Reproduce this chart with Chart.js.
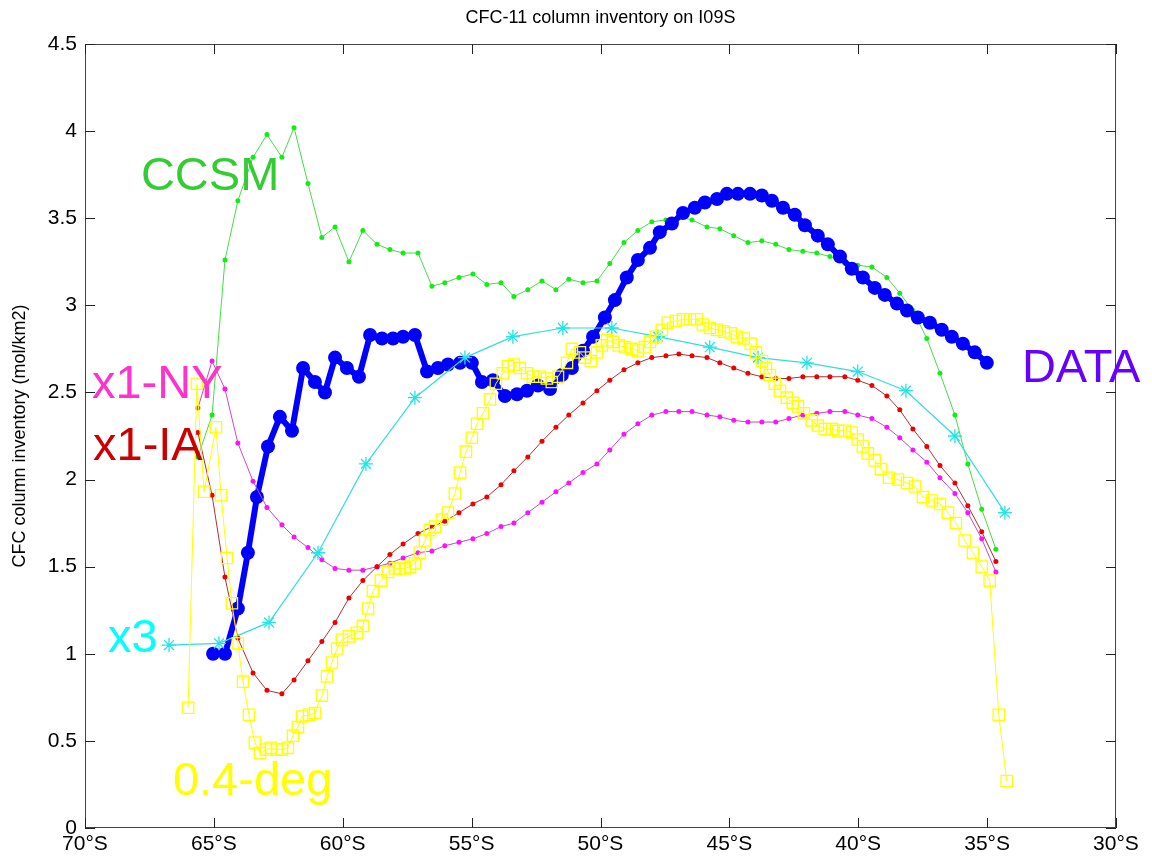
<!DOCTYPE html>
<html>
<head>
<meta charset="utf-8">
<script src="https://cdn.jsdelivr.net/npm/chart.js@4.4.0/dist/chart.umd.min.js"></script>
<style>
  html, body { margin: 0; padding: 0; background: #fff; }
</style>
</head>
<body>
<canvas id="cfc-chart" width="1152" height="858"></canvas>
<script>
//
// Data - latitudes are negative (degrees south)
//
const xTicks = [-70, -65, -60, -55, -50, -45, -40, -35, -30];
const yTicks = [0, 0.5, 1, 1.5, 2, 2.5, 3, 3.5, 4, 4.5];

// model grid shared by CCSM, x1-IA and x1-NY
const modelLat = [-65.62, -65.07, -64.57, -64.07, -63.48, -62.94, -62.36, -61.89, -61.35, -60.81,
    -60.30, -59.76, -59.22, -58.67, -58.17, -57.66, -57.08, -56.54, -56.04, -55.49,
    -54.95, -54.41, -53.86, -53.36, -52.82, -52.27, -51.73, -51.23, -50.68, -50.14,
    -49.64, -49.09, -48.55, -48.01, -47.46, -46.96, -46.45, -45.87, -45.37, -44.83,
    -44.28, -43.74, -43.20, -42.69, -42.15, -41.61, -41.10, -40.52, -40.02, -39.47,
    -38.89, -38.39, -37.88, -37.34, -36.83, -36.25, -35.75, -35.21, -34.66];

const ccsm = [2.13, 2.37, 3.26, 3.60, 3.85, 3.98, 3.85, 4.02, 3.70, 3.39,
    3.45, 3.25, 3.43, 3.35, 3.32, 3.30, 3.30, 3.11, 3.13, 3.16,
    3.18, 3.12, 3.13, 3.05, 3.09, 3.14, 3.09, 3.15, 3.13, 3.14,
    3.24, 3.36, 3.43, 3.48, 3.49, 3.51, 3.49, 3.45, 3.44, 3.40,
    3.36, 3.37, 3.35, 3.32, 3.31, 3.30, 3.28, 3.24, 3.23, 3.22,
    3.16, 3.07, 2.97, 2.81, 2.61, 2.37, 2.09, 1.83, 1.60];

const x1IA = [2.27, 1.91, 1.44, 1.09, 0.89, 0.79, 0.77, 0.85, 0.96, 1.07,
    1.18, 1.32, 1.42, 1.50, 1.57, 1.63, 1.69, 1.73, 1.76, 1.81,
    1.86, 1.90, 1.97, 2.05, 2.13, 2.22, 2.30, 2.37, 2.44, 2.51,
    2.57, 2.63, 2.67, 2.70, 2.71, 2.72, 2.71, 2.70, 2.67, 2.64,
    2.61, 2.59, 2.58, 2.58, 2.59, 2.59, 2.59, 2.59, 2.57, 2.54,
    2.48, 2.40, 2.29, 2.19, 2.08, 1.98, 1.85, 1.70, 1.53];

const x1NY = [2.41, 2.68, 2.52, 2.21, 1.99, 1.84, 1.74, 1.67, 1.61, 1.54,
    1.49, 1.48, 1.48, 1.50, 1.52, 1.55, 1.58, 1.59, 1.62, 1.64,
    1.66, 1.69, 1.73, 1.75, 1.81, 1.87, 1.93, 1.98, 2.04, 2.09,
    2.17, 2.26, 2.32, 2.37, 2.39, 2.39, 2.39, 2.37, 2.36, 2.34,
    2.33, 2.33, 2.33, 2.35, 2.37, 2.38, 2.39, 2.39, 2.37, 2.35,
    2.30, 2.24, 2.17, 2.10, 2.01, 1.92, 1.81, 1.66, 1.47];

const x3Lat = [-66.74, -64.80, -62.86, -60.96, -59.10, -57.20, -55.26, -53.40, -51.46,
    -49.56, -47.77, -45.76, -43.89, -41.99, -40.02, -38.15, -36.25, -34.31];
const x3 = [1.05, 1.06, 1.18, 1.58, 2.09, 2.47, 2.70, 2.82, 2.87,
    2.87, 2.82, 2.76, 2.70, 2.67, 2.62, 2.51, 2.25, 1.81];

const obsLat = [-65.03, -64.57, -64.07, -63.68, -63.33, -62.90, -62.44, -61.97, -61.54, -61.08,
    -60.69, -60.30, -59.84, -59.37, -58.94, -58.48, -58.05, -57.66, -57.20, -56.73,
    -56.31, -55.92, -55.45, -54.99, -54.60, -54.17, -53.71, -53.24, -52.85, -52.43,
    -51.96, -51.50, -51.11, -50.68, -50.29, -49.83, -49.44, -48.98, -48.55, -48.08,
    -47.70, -47.23, -46.80, -46.34, -45.95, -45.48, -45.10, -44.67, -44.20, -43.74,
    -43.35, -42.92, -42.46, -42.07, -41.57, -41.18, -40.71, -40.25, -39.82, -39.36,
    -38.97, -38.50, -38.11, -37.69, -37.22, -36.76, -36.37, -35.94, -35.48, -35.01];
const obs = [1.00, 1.00, 1.26, 1.58, 1.90, 2.19, 2.36, 2.28, 2.64, 2.56,
    2.50, 2.70, 2.64, 2.59, 2.83, 2.81, 2.81, 2.82, 2.83, 2.62,
    2.64, 2.66, 2.67, 2.67, 2.56, 2.57, 2.48, 2.49, 2.51, 2.54,
    2.52, 2.60, 2.64, 2.74, 2.82, 2.93, 3.03, 3.16, 3.26, 3.33,
    3.42, 3.47, 3.53, 3.56, 3.59, 3.61, 3.64, 3.64, 3.64, 3.63,
    3.60, 3.56, 3.52, 3.46, 3.40, 3.35, 3.28, 3.21, 3.16, 3.10,
    3.06, 3.01, 2.97, 2.93, 2.90, 2.86, 2.82, 2.78, 2.73, 2.67];

const deg04Lat = [-66.00, -65.66, -65.38, -64.92, -64.72, -64.49, -64.30, -64.07, -63.87, -63.64,
    -63.41, -63.21, -62.98, -62.79, -62.55, -62.36, -62.13, -61.93, -61.74, -61.58,
    -61.31, -61.08, -60.81, -60.61, -60.42, -60.22, -60.03, -59.76, -59.45, -59.22,
    -59.02, -58.83, -58.52, -58.25, -57.98, -57.78, -57.59, -57.39, -57.20, -57.01,
    -56.81, -56.62, -56.42, -56.15, -55.92, -55.65, -55.45, -55.22, -54.99, -54.79,
    -54.56, -54.29, -54.06, -53.79, -53.59, -53.36, -53.13, -52.85, -52.62, -52.35,
    -52.08, -51.89, -51.65, -51.30, -51.11, -50.80, -50.61, -50.37, -50.14, -49.95,
    -49.75, -49.52, -49.29, -49.05, -48.78, -48.55, -48.28, -48.08, -47.85, -47.62,
    -47.39, -47.08, -46.80, -46.53, -46.26, -46.03, -45.76, -45.48, -45.21, -44.94,
    -44.71, -44.44, -44.17, -43.97, -43.74, -43.58, -43.43, -43.24, -43.04, -42.77,
    -42.54, -42.34, -42.11, -41.80, -41.57, -41.30, -41.02, -40.79, -40.52, -40.25,
    -40.02, -39.82, -39.63, -39.36, -39.12, -38.81, -38.46, -38.11, -37.80, -37.49,
    -37.14, -36.83, -36.52, -36.21, -35.87, -35.55, -35.21, -34.90, -34.55, -34.24];
const deg04 = [0.69, 2.55, 1.93, 2.30, 1.91, 1.55, 1.29, 1.06, 0.84, 0.65,
    0.49, 0.43, 0.45, 0.46, 0.45, 0.45, 0.46, 0.53, 0.58, 0.64,
    0.65, 0.66, 0.76, 0.87, 0.95, 1.03, 1.08, 1.10, 1.12, 1.16,
    1.26, 1.36, 1.42, 1.47, 1.49, 1.49, 1.49, 1.50, 1.52, 1.58,
    1.65, 1.71, 1.73, 1.77, 1.81, 1.92, 2.04, 2.16, 2.24, 2.32,
    2.38, 2.46, 2.55, 2.61, 2.65, 2.66, 2.64, 2.61, 2.59, 2.59,
    2.58, 2.56, 2.59, 2.67, 2.75, 2.73, 2.70, 2.68, 2.73, 2.77,
    2.80, 2.79, 2.77, 2.76, 2.75, 2.74, 2.76, 2.79, 2.82, 2.86,
    2.90, 2.91, 2.92, 2.92, 2.92, 2.89, 2.87, 2.86, 2.85, 2.84,
    2.82, 2.81, 2.78, 2.73, 2.68, 2.64, 2.60, 2.55, 2.51, 2.47,
    2.44, 2.42, 2.38, 2.34, 2.31, 2.29, 2.29, 2.28, 2.28, 2.27,
    2.23, 2.19, 2.15, 2.11, 2.06, 2.01, 2.00, 1.98, 1.96, 1.90,
    1.88, 1.86, 1.81, 1.75, 1.65, 1.58, 1.50, 1.42, 0.65, 0.27];

const FONT = "'Liberation Sans', Arial, sans-serif";

function toPoints(xs, ys) {
    return xs.map((x, i) => ({ x: x, y: ys[i] }));
}

//
// Text labels drawn next to the curves (placed in data units)
//
const curveLabels = [
    { text: 'CCSM',    x: -67.83, y: 3.66, color: '#33cc33' },
    { text: 'DATA',    x: -33.65, y: 2.56, color: '#6600ff' },
    { text: 'x1-NY',   x: -69.73, y: 2.47, color: '#ff33cc' },
    { text: 'x1-IA',   x: -69.69, y: 2.11, color: '#cc0000' },
    { text: 'x3',      x: -69.11, y: 1.01, color: '#00ffff' },
    { text: '0.4-deg', x: -66.59, y: 0.19, color: '#ffff00' }
];

// box, inward ticks, title, y label and curve names
const matlabFrame = {
    id: 'matlabFrame',
    afterDraw(chart) {
        const ctx = chart.ctx;
        const a = chart.chartArea;
        const xs = chart.scales.x;
        const ys = chart.scales.y;
        const tick = 10;

        ctx.save();
        ctx.strokeStyle = '#444';
        ctx.lineWidth = 1;
        ctx.strokeRect(a.left + 0.5, a.top + 0.5, a.right - a.left - 1, a.bottom - a.top - 1);

        ctx.strokeStyle = '#222';
        ctx.beginPath();
        xTicks.forEach(v => {
            const px = Math.round(xs.getPixelForValue(v)) + 0.5;
            ctx.moveTo(px, a.bottom);
            ctx.lineTo(px, a.bottom - tick);
            ctx.moveTo(px, a.top);
            ctx.lineTo(px, a.top + tick);
        });
        yTicks.forEach(v => {
            const py = Math.round(ys.getPixelForValue(v)) + 0.5;
            ctx.moveTo(a.left, py);
            ctx.lineTo(a.left + tick, py);
            ctx.moveTo(a.right, py);
            ctx.lineTo(a.right - tick, py);
        });
        ctx.stroke();

        // title
        ctx.fillStyle = '#000';
        ctx.font = '18px ' + FONT;
        ctx.textAlign = 'center';
        ctx.textBaseline = 'middle';
        ctx.fillText('CFC-11 column inventory on I09S', (a.left + a.right) / 2, 18);

        // y axis title
        ctx.save();
        ctx.translate(20, (a.top + a.bottom) / 2);
        ctx.rotate(-Math.PI / 2);
        ctx.fillText('CFC column inventory (mol/km2)', 0, 0);
        ctx.restore();

        // curve names
        ctx.font = '47px ' + FONT;
        ctx.textAlign = 'left';
        ctx.textBaseline = 'alphabetic';
        curveLabels.forEach(l => {
            ctx.fillStyle = l.color;
            ctx.fillText(l.text, xs.getPixelForValue(l.x), ys.getPixelForValue(l.y));
        });
        ctx.restore();
    }
};

const cfcCanvas = document.getElementById('cfc-chart');

let cfcChart = new Chart(cfcCanvas, {
    type: 'line',
    data: {
        datasets: [
            {
                label: '0.4-deg',
                data: toPoints(deg04Lat, deg04),
                borderColor: '#ffff00',
                borderWidth: 1,
                pointStyle: 'rect',
                pointRadius: 8,
                pointBorderColor: '#ffff00',
                pointBackgroundColor: 'rgba(0,0,0,0)',
                pointBorderWidth: 1.3
            },
            {
                label: 'x3',
                data: toPoints(x3Lat, x3),
                borderColor: '#33dddd',
                borderWidth: 1.2,
                pointStyle: 'star',
                pointRadius: 7,
                pointBorderColor: '#22e5e5',
                pointBorderWidth: 1.3
            },
            {
                label: 'x1-IA',
                data: toPoints(modelLat, x1IA),
                borderColor: '#b03030',
                borderWidth: 1,
                pointRadius: 2.5,
                pointBorderWidth: 0,
                pointBackgroundColor: '#ee0000'
            },
            {
                label: 'x1-NY',
                data: toPoints(modelLat, x1NY),
                borderColor: '#c848c8',
                borderWidth: 1,
                pointRadius: 2.5,
                pointBorderWidth: 0,
                pointBackgroundColor: '#ff11ff'
            },
            {
                label: 'DATA',
                data: toPoints(obsLat, obs),
                borderColor: '#0000ff',
                borderWidth: 6,
                pointRadius: 7,
                pointBorderWidth: 0,
                pointBackgroundColor: '#0000ff'
            },
            {
                label: 'CCSM',
                data: toPoints(modelLat, ccsm),
                borderColor: '#44dd44',
                borderWidth: 1,
                pointRadius: 2.5,
                pointBorderWidth: 0,
                pointBackgroundColor: '#11ee11'
            }
        ]
    },
    options: {
        responsive: false,
        animation: false,
        layout: {
            padding: { left: 0, right: 36, top: 44, bottom: 0 }
        },
        plugins: {
            legend: { display: false },
            tooltip: { enabled: false }
        },
        scales: {
            x: {
                type: 'linear',
                min: -70,
                max: -30,
                grid: { display: false, drawTicks: false },
                border: { display: false },
                ticks: {
                    stepSize: 5,
                    padding: 4,
                    color: '#000',
                    maxRotation: 0,
                    autoSkip: false,
                    font: { family: FONT, size: 21 },
                    callback: v => Math.abs(v) + '°S'
                },
                afterFit: s => { s.height = 30; }
            },
            y: {
                min: 0,
                max: 4.5,
                grid: { display: false, drawTicks: false },
                border: { display: false },
                ticks: {
                    stepSize: 0.5,
                    padding: 8,
                    color: '#000',
                    font: { family: FONT, size: 21 },
                    callback: v => String(v)
                },
                afterFit: s => { s.width = 85; }
            }
        }
    },
    plugins: [matlabFrame]
});
</script>
</body>
</html>
